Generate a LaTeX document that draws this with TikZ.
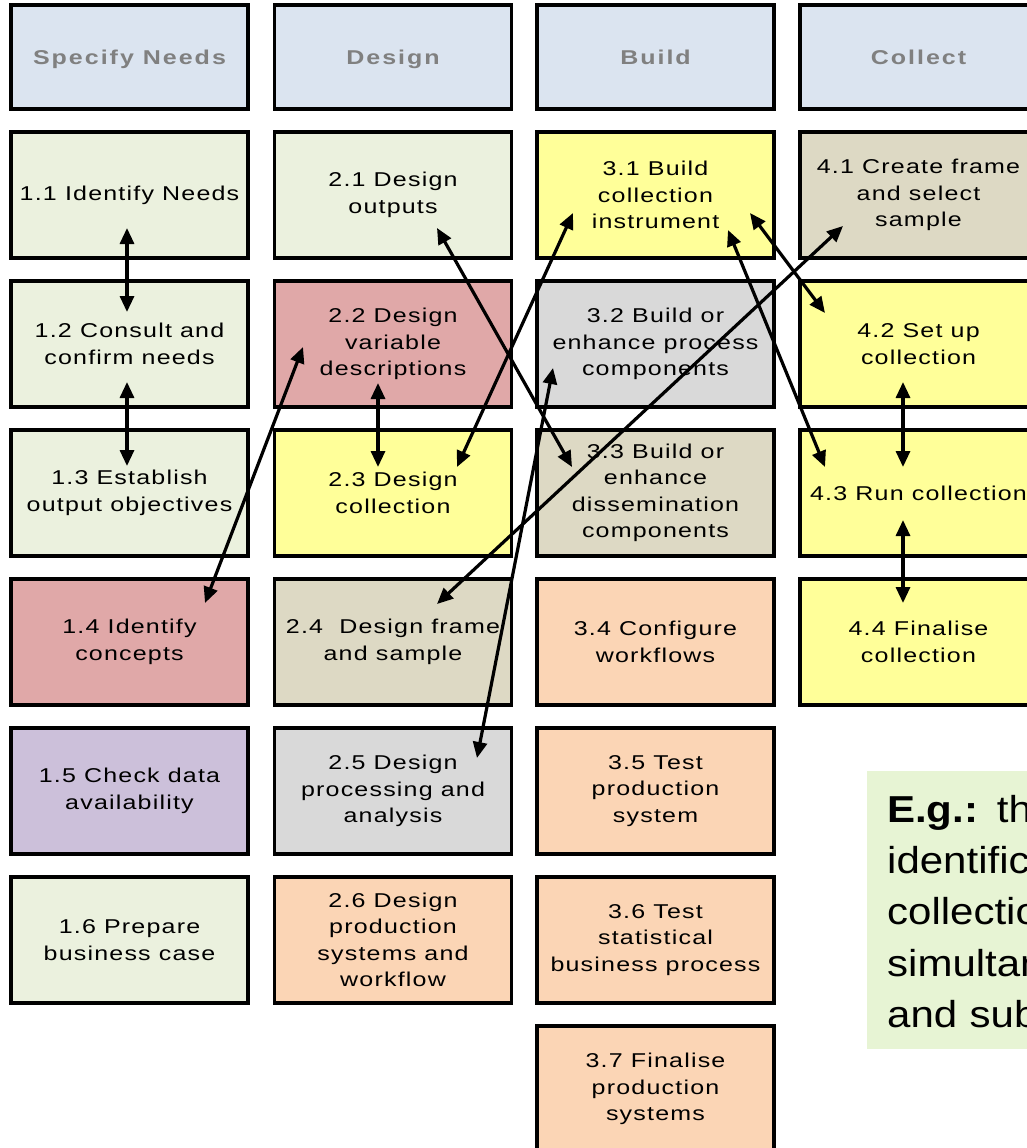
\documentclass[tikz,border=0pt]{standalone}
\usepackage{fontspec}
\setmainfont{Liberation Sans}
\newfontfamily\boxfont{Liberation Sans}[FakeStretch=1.25, LetterSpace=6]
\newfontfamily\headfont{Liberation Sans}[FakeStretch=1.25, LetterSpace=10]
\newfontfamily\egfont{Liberation Sans}[FakeStretch=1.12]
\usetikzlibrary{arrows.meta}
\definecolor{hdr}{HTML}{DBE4F0}
\definecolor{cgreen}{HTML}{EBF1DE}
\definecolor{cpink}{HTML}{E0A8A8}
\definecolor{cyellow}{HTML}{FFFF99}
\definecolor{cgray}{HTML}{D9D9D9}
\definecolor{ctan}{HTML}{DDD9C4}
\definecolor{cpeach}{HTML}{FBD5B5}
\definecolor{clav}{HTML}{CCC0DA}
\definecolor{egfill}{HTML}{E7F4D4}
\definecolor{hdrtext}{HTML}{808080}
\begin{document}
\begin{tikzpicture}[x=1pt,y=-1pt,
  cell/.style={draw=black, line width=3.2pt, minimum width=237pt, minimum height=126pt,
    inner sep=0pt, align=center, font=\boxfont\fontsize{20}{26.5}\selectfont},
  headbox/.style={cell, fill=hdr, minimum height=104pt, text height=14pt, text depth=-4pt,
    font=\headfont\bfseries\fontsize{20}{26.5}\selectfont, text=hdrtext},
  link/.style={line width=3.2pt, {Triangle[length=16pt,width=14pt]}-{Triangle[length=16pt,width=14pt]}}]
\useasboundingbox (0,0) rectangle (1027,1148);
\clip (0,0) rectangle (1027,1148);
\fill[white] (0,0) rectangle (1027,1148);
% headers
\node[headbox] (h1) at (129.5,57) {Specify Needs};
\node[headbox] (h2) at (393,57) {Design};
\node[headbox] (h3) at (655.5,57) {Build};
\node[headbox] (h4) at (918.5,57) {Collect};
% column 1
\node[cell, fill=cgreen] (n11) at (129.5,195) {1.1 Identify Needs};
\node[cell, fill=cgreen] (n12) at (129.5,344) {1.2 Consult and\\confirm needs};
\node[cell, fill=cgreen] (n13) at (129.5,493) {1.3 Establish\\output objectives};
\node[cell, fill=cpink] (n14) at (129.5,642) {1.4 Identify\\concepts};
\node[cell, fill=clav] (n15) at (129.5,791) {1.5 Check data\\availability};
\node[cell, fill=cgreen] (n16) at (129.5,940) {1.6 Prepare\\business case};
% column 2
\node[cell, fill=cgreen] (n21) at (393,195) {2.1 Design\\outputs};
\node[cell, fill=cpink] (n22) at (393,344) {2.2 Design\\variable\\descriptions};
\node[cell, fill=cyellow] (n23) at (393,493) {2.3 Design\\collection};
\node[cell, fill=ctan] (n24) at (393,642) {2.4 \ Design frame\\and sample};
\node[cell, fill=cgray] (n25) at (393,791) {2.5 Design\\processing and\\analysis};
\node[cell, fill=cpeach] (n26) at (393,940) {2.6 Design\\production\\systems and\\workflow};
% column 3
\node[cell, fill=cyellow] (n31) at (655.5,195) {3.1 Build\\collection\\instrument};
\node[cell, fill=cgray] (n32) at (655.5,344) {3.2 Build or\\enhance process\\components};
\node[cell, fill=ctan] (n33) at (655.5,493) {3.3 Build or\\enhance\\dissemination\\components};
\node[cell, fill=cpeach] (n34) at (655.5,642) {3.4 Configure\\workflows};
\node[cell, fill=cpeach] (n35) at (655.5,791) {3.5 Test\\production\\system};
\node[cell, fill=cpeach] (n36) at (655.5,940) {3.6 Test\\statistical\\business process};
\node[cell, fill=cpeach] (n37) at (655.5,1089) {3.7 Finalise\\production\\systems};
% column 4
\node[cell, fill=ctan] (n41) at (918.5,195) {4.1 Create frame\\and select\\sample};
\node[cell, fill=cyellow] (n42) at (918.5,344) {4.2 Set up\\collection};
\node[cell, fill=cyellow] (n43) at (918.5,493) {4.3 Run collection};
\node[cell, fill=cyellow] (n44) at (918.5,642) {4.4 Finalise\\collection};
% example box
\node[fill=egfill, minimum width=200pt, minimum height=278pt, inner sep=0pt, anchor=north west] (eg) at (867,771) {};
\node[anchor=north west, inner sep=0pt, align=left, text width=300pt,
  font=\egfont\fontsize{37.5}{51.3}\selectfont] (egtext) at (887,795)
  {\textbf{E.g.:} the\\identification\\collection\\simultaneous\\and subsequent};
% connectors
\draw[link] ([shift={(-2.5,33)}]n11.center) -- ([shift={(-2.5,-32)}]n12.center);
\draw[link] ([shift={(-2.5,38)}]n12.center) -- ([shift={(-2.5,-27)}]n13.center);
\draw[link] ([shift={(-15,39)}]n22.center) -- ([shift={(-15,-26)}]n23.center);
\draw[link] ([shift={(-15.5,38)}]n42.center) -- ([shift={(-15.5,-26)}]n43.center);
\draw[link] ([shift={(-15.5,27)}]n43.center) -- ([shift={(-15.5,-39)}]n44.center);
\draw[link] ([shift={(75.5,-39)}]n14.center) -- ([shift={(-90,3)}]n22.center);
\draw[link] ([shift={(44,33)}]n21.center) -- ([shift={(-83.5,-26)}]n33.center);
\draw[link] ([shift={(64,-26)}]n23.center) -- ([shift={(-82.5,18)}]n31.center);
\draw[link] ([shift={(44,-38)}]n24.center) -- ([shift={(-75.5,31)}]n41.center);
\draw[link] ([shift={(84,-33)}]n25.center) -- ([shift={(-102.5,24)}]n32.center);
\draw[link] ([shift={(94.5,18)}]n31.center) -- ([shift={(-93.5,-31)}]n42.center);
\draw[link] ([shift={(72.5,35)}]n31.center) -- ([shift={(-93.5,-26)}]n43.center);
\end{tikzpicture}
\end{document}
